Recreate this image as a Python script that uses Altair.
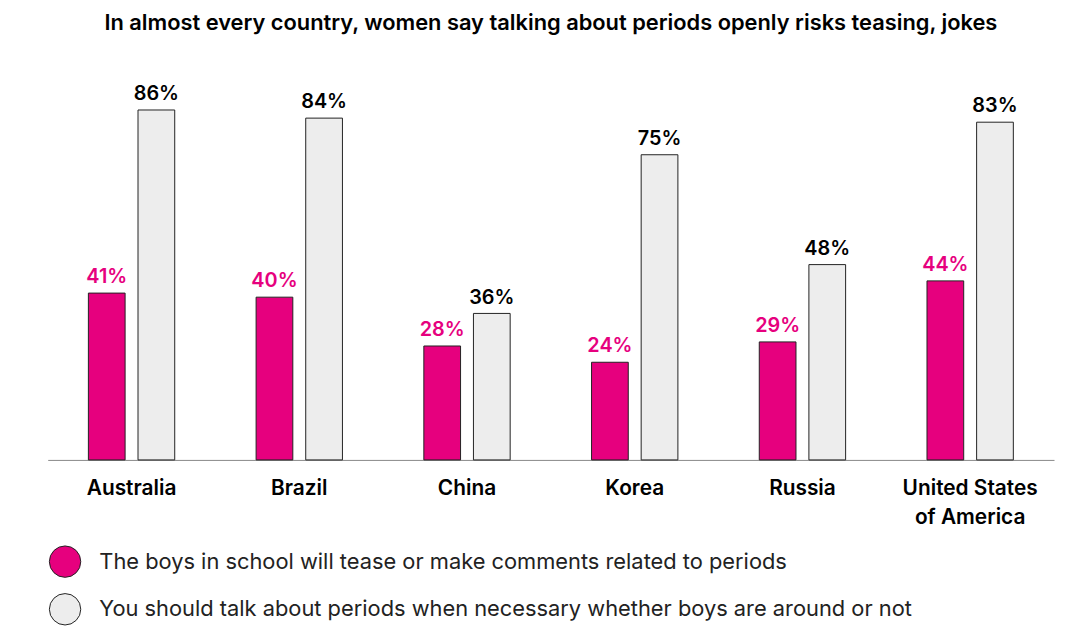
import pandas as pd
import altair as alt

countries = ["Australia", "Brazil", "China", "Korea", "Russia", "United States of America"]
boys_tease = [41, 40, 28, 24, 29, 44]
talk_openly = [86, 84, 36, 75, 48, 83]
series = [
    "The boys in school will tease or make comments related to periods",
    "You should talk about periods when necessary whether boys are around or not",
]

df = pd.DataFrame({
    "country": countries * 2,
    "series": [series[0]] * 6 + [series[1]] * 6,
    "value": boys_tease + talk_openly,
})
df["label"] = df["value"].astype(str) + "%"

PINK = "#E6007E"
GREY = "#EDEDED"
FONT = "Inter"

x = alt.X("country:N", sort=countries, title=None,
          scale=alt.Scale(paddingInner=0, paddingOuter=0),
          axis=alt.Axis(labelAngle=0, ticks=False, domainColor="#888", labelFontSize=21,
                        labelFontWeight=600, labelColor="black", labelPadding=18, labelFont=FONT,
                        labelLimit=0, labelLineHeight=29,
                        labelExpr="datum.label == 'United States of America' ? ['United States', 'of America'] : datum.label"))
xoff = alt.XOffset("series:N", sort=series,
                   scale=alt.Scale(paddingInner=0.26, paddingOuter=0.82))
y = alt.Y("value:Q", scale=alt.Scale(domain=[0, 100]), axis=None)

bars = alt.Chart(df).mark_bar(stroke="#222", strokeWidth=1).encode(
    x=x, xOffset=xoff, y=y,
    color=alt.Color("series:N", sort=series, title=None,
                    scale=alt.Scale(domain=series, range=[PINK, GREY]),
                    legend=alt.Legend(orient="none", legendX=1, legendY=496, symbolType="circle",
                                      symbolSize=1000, symbolStrokeColor="#222", symbolStrokeWidth=1,
                                      labelFontSize=22, labelFont=FONT, labelLimit=0,
                                      labelColor="#222", rowPadding=11, labelOffset=18)),
)

text = alt.Chart(df).mark_text(dy=-16, fontSize=20, fontWeight=600, font=FONT).encode(
    x=x, xOffset=xoff, y=y, text="label:N",
    color=alt.condition(alt.datum.series == series[0], alt.value(PINK), alt.value("black")),
)

chart = (bars + text).properties(
    width=1014, height=410,
    autosize=alt.AutoSizeParams(type="none"),
    padding={"left": 40, "top": 43, "right": 3, "bottom": 167},
    title=alt.Title("In almost every country, women say talking about periods openly risks teasing, jokes",
                    fontSize=22, fontWeight=600, font=FONT, color="black", offset=18, anchor="middle"),
).configure_view(stroke=None)

chart.save("out.html", embed_options={"renderer": "svg", "actions": False})
